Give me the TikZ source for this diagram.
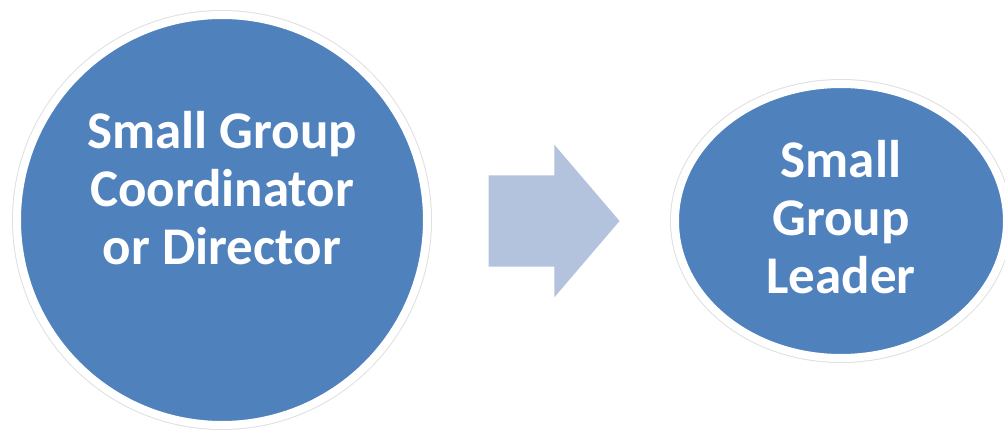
\documentclass[tikz,border=0pt]{standalone}
\usepackage{fontspec}
\setmainfont{Carlito}
\usetikzlibrary{shapes.geometric, shapes.arrows}
\definecolor{bubble}{HTML}{4F81BD}
\definecolor{pointer}{HTML}{B3C3DE}
\tikzstyle{role} = [fill=bubble,draw=white,line width=8pt,preaction={draw=black!12,line width=10pt}]
\tikzstyle{roletext} = [text=white,font=\fontsize{53}{58}\selectfont\bfseries,align=center,inner sep=0pt]

\begin{document}
\begin{tikzpicture}[x=1pt,y=-1pt]
		\useasboundingbox[fill=white] (0,0) rectangle (1005,431);
		% the two roles
		\node [role,circle,minimum size=410pt](coord) at (222,220){};
		\node [roletext] at ([yshift=32pt]coord.center){Small Group\\Coordinator\\or Director};
		\node [role,ellipse,minimum width=332pt,minimum height=274pt](leader) at (841,221){};
		\node [roletext] at ([yshift=4pt]leader.center){Small\\Group\\Leader};
		
		% hand over
		\node [single arrow,fill=pointer,inner sep=0pt,text height=45.5pt,text depth=45.5pt,minimum height=131pt,single arrow head extend=30.5pt,single arrow tip angle=99](hand) at (534.5,221){};
		\end{tikzpicture}
\end{document}
